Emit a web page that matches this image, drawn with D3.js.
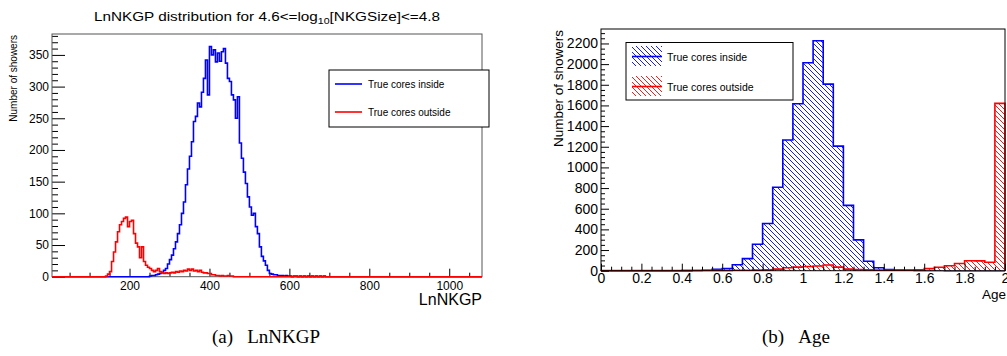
<!DOCTYPE html>
<html>
<head>
<meta charset="utf-8">
<script src="https://cdn.jsdelivr.net/npm/d3@7"></script>
<style>
  body { margin: 0; background: #fff; }
  svg { display: block; font-family: "Liberation Sans", Arial, sans-serif; }
</style>
</head>
<body>
<div id="chart"></div>
<script>
// ---- data ----
// left panel: LnNKGP, bins of 5 units
const lnRange = [6, 1082];
const lnBinWidth = 5;
const lnInsideStart = 250;
const lnInside = [1, 2, 2, 3, 4, 5, 7, 10, 13, 20,
  27, 34, 44, 55, 68, 82, 100, 118, 145, 170,
  190, 213, 245, 253, 274, 268, 291, 313, 342, 287,
  363, 350, 358, 339, 353, 340, 355, 360, 337, 313,
  308, 287, 279, 250, 284, 211, 187, 165, 147, 126,
  110, 97, 100, 79, 68, 47, 32, 25, 18, 10,
  5, 4, 3, 3, 2, 2, 2, 1, 2, 1,
  1, 0, 1, 1, 0, 1, 0, 1, 0, 1,
  0, 1, 0, 1, 0, 1, 0, 1];
const lnOutsideStart = 140;
const lnOutside = [1, 4, 8, 24, 39, 55, 71, 82, 87, 92,
  94, 79, 87, 89, 68, 53, 47, 30, 47, 24,
  18, 15, 13, 10, 8, 10, 13, 8, 6, 5,
  6, 5, 6, 7, 6, 8, 7, 9, 8, 10,
  9, 12, 10, 12, 9, 10, 8, 10, 7, 6,
  6, 5, 5, 3, 3, 2, 2, 1, 2, 1,
  1, 2, 1, 1, 0];
const lnYTicks = [0, 50, 100, 150, 200, 250, 300, 350];
const lnXTicks = [200, 400, 600, 800, 1000];

// right panel: Age, 40 bins of 0.05
const ageRange = [0, 2];
const ageBinWidth = 0.05;
const ageInside = [0, 0, 0, 0, 0, 0, 0, 0, 1, 2,
  5, 13, 22, 58, 117, 256, 457, 808, 1265, 1616,
  2013, 2226, 1806, 1206, 632, 298, 91, 29, 12, 6,
  4, 3, 2, 2, 1, 1, 1, 0, 0, 0];
const ageOutside = [2, 1, 1, 1, 1, 1, 1, 1, 1, 2,
  2, 3, 3, 4, 5, 6, 8, 15, 28, 35,
  40, 45, 55, 35, 15, 10, 8, 6, 5, 5,
  6, 8, 20, 33, 48, 70, 97, 95, 82, 1620];
const ageYTicks = [0, 200, 400, 600, 800, 1000, 1200, 1400, 1600, 1800, 2000, 2200];
const ageXTicks = [0, 0.2, 0.4, 0.6, 0.8, 1, 1.2, 1.4, 1.6, 1.8, 2];

const seriesNames = ['True cores inside', 'True cores outside'];
const seriesColors = ['#0000ff', '#ff0000'];

// ---- page ----
const width = 1007;
const height = 356;

const svg = d3.select('#chart')
  .append('svg')
  .attr('width', width)
  .attr('height', height);

// "\\\" hatching used by the filled histograms
const hatch = 5;
const defs = svg.append('defs');
seriesColors.forEach((c, i) => {
  const p = defs.append('pattern')
    .attr('id', 'hatch' + i)
    .attr('patternUnits', 'userSpaceOnUse')
    .attr('width', hatch)
    .attr('height', hatch);
  p.append('rect').attr('width', hatch).attr('height', hatch).attr('fill', '#fff');
  p.append('path')
    .attr('d', `M0,0 L${hatch},${hatch} M-1,${hatch - 1} L1,${hatch + 1} M${hatch - 1},-1 L${hatch + 1},1`)
    .attr('stroke', c)
    .attr('stroke-width', 0.9);
});

// turn bin values into step points along the full axis range
function stepPoints(range, start, w, values) {
  const pts = [[range[0], 0], [start, 0]];
  values.forEach((v, i) => pts.push([start + i * w, v]));
  pts.push([start + values.length * w, 0]);
  pts.push([range[1], 0]);
  return pts;
}

function styleAxis(g, fontSize) {
  g.select('.domain').remove();
  g.selectAll('line').attr('stroke', '#000');
  g.selectAll('text')
    .attr('fill', '#000')
    .style('font-size', fontSize + 'px')
    .style('font-family', '"Liberation Sans", Arial, sans-serif');
}

function minorTicks(lo, hi, step, majors) {
  const out = [];
  for (let v = lo; v <= hi + 1e-9; v += step) {
    const r = Math.round(v * 1000) / 1000;
    if (!majors.some(m => Math.abs(m - r) < 1e-9)) out.push(r);
  }
  return out;
}

// =========== left panel ===========
const L = { left: 52, right: 482, top: 34, bottom: 276.7 };
const xL = d3.scaleLinear().domain(lnRange).range([L.left, L.right]);
const yL = d3.scaleLinear().domain([0, 383]).range([L.bottom, L.top]);

svg.append('g')
  .attr('transform', `translate(${L.left},0)`)
  .call(d3.axisLeft(yL).tickValues(lnYTicks).tickSizeInner(-13).tickSizeOuter(0).tickPadding(3).tickFormat(d3.format('d')))
  .call(g => styleAxis(g, 12));
svg.append('g')
  .attr('transform', `translate(${L.left},0)`)
  .call(d3.axisLeft(yL).tickValues(minorTicks(0, 380, 10, lnYTicks)).tickSizeInner(-6).tickSizeOuter(0).tickFormat(''))
  .call(g => styleAxis(g, 12));
svg.append('g')
  .attr('transform', `translate(0,${L.bottom})`)
  .call(d3.axisBottom(xL).tickValues(lnXTicks).tickSizeInner(-8).tickSizeOuter(0).tickPadding(4.5).tickFormat(d3.format('d')))
  .call(g => styleAxis(g, 12));
svg.append('g')
  .attr('transform', `translate(0,${L.bottom})`)
  .call(d3.axisBottom(xL).tickValues(minorTicks(50, 1050, 50, lnXTicks)).tickSizeInner(-4).tickSizeOuter(0).tickFormat(''))
  .call(g => styleAxis(g, 12));

svg.append('rect')
  .attr('x', L.left).attr('y', L.top)
  .attr('width', L.right - L.left).attr('height', L.bottom - L.top)
  .attr('fill', 'none').attr('stroke', '#555').attr('stroke-width', 1);

const lineL = d3.line()
  .x(d => xL(d[0]))
  .y(d => yL(d[1]))
  .curve(d3.curveStepAfter);

svg.append('path')
  .datum(stepPoints(lnRange, lnInsideStart, lnBinWidth, lnInside))
  .attr('d', lineL)
  .attr('fill', 'none')
  .attr('stroke', seriesColors[0])
  .attr('stroke-width', 1.6);
svg.append('path')
  .datum(stepPoints(lnRange, lnOutsideStart, lnBinWidth, lnOutside))
  .attr('d', lineL)
  .attr('fill', 'none')
  .attr('stroke', seriesColors[1])
  .attr('stroke-width', 1.6);

// title with subscript, stretched to the width seen in the picture
const title = svg.append('text')
  .attr('x', 94).attr('y', 21)
  .attr('textLength', 346)
  .attr('lengthAdjust', 'spacingAndGlyphs')
  .style('font-size', '13px');
title.append('tspan').text('LnNKGP distribution for 4.6<=log');
title.append('tspan').attr('dy', 3).style('font-size', '9px').text('10');
title.append('tspan').attr('dy', -3).text('[NKGSize]<=4.8');

svg.append('text')
  .attr('transform', 'translate(17,35) rotate(-90)')
  .attr('text-anchor', 'end')
  .style('font-size', '10px')
  .text('Number of showers');

svg.append('text')
  .attr('x', 482).attr('y', 305)
  .attr('text-anchor', 'end')
  .style('font-size', '16px')
  .text('LnNKGP');

// left legend
const legL = svg.append('g');
legL.append('rect')
  .attr('x', 329).attr('y', 70).attr('width', 160).attr('height', 57)
  .attr('fill', '#fff').attr('stroke', '#000').attr('stroke-width', 1);
seriesNames.forEach((n, i) => {
  const yy = 84 + i * 28;
  legL.append('line')
    .attr('x1', 335).attr('x2', 362).attr('y1', yy).attr('y2', yy)
    .attr('stroke', seriesColors[i]).attr('stroke-width', 1.6);
  legL.append('text')
    .attr('x', 368).attr('y', yy + 3.5)
    .style('font-size', '10px')
    .text(n);
});

// =========== right panel ===========
const R = { left: 601, right: 1005, top: 29, bottom: 270.7 };
const xR = d3.scaleLinear().domain(ageRange).range([R.left, R.right]);
const yR = d3.scaleLinear().domain([0, 2340]).range([R.bottom, R.top]);

const areaR = d3.area()
  .x(d => xR(d[0]))
  .y0(yR(0))
  .y1(d => yR(d[1]))
  .curve(d3.curveStepAfter);
const lineR = d3.line()
  .x(d => xR(d[0]))
  .y(d => yR(d[1]))
  .curve(d3.curveStepAfter);

[ageInside, ageOutside].forEach((vals, i) => {
  const pts = stepPoints(ageRange, 0, ageBinWidth, vals);
  svg.append('path')
    .datum(pts)
    .attr('d', areaR)
    .attr('fill', `url(#hatch${i})`)
    .attr('stroke', 'none');
  svg.append('path')
    .datum(pts)
    .attr('d', lineR)
    .attr('fill', 'none')
    .attr('stroke', seriesColors[i])
    .attr('stroke-width', 1.6);
});

svg.append('g')
  .attr('transform', `translate(${R.left},0)`)
  .call(d3.axisLeft(yR).tickValues(ageYTicks).tickSizeInner(-8).tickSizeOuter(0).tickPadding(3).tickFormat(d3.format('d')))
  .call(g => styleAxis(g, 14));
svg.append('g')
  .attr('transform', `translate(${R.left},0)`)
  .call(d3.axisLeft(yR).tickValues(minorTicks(0, 2300, 50, ageYTicks)).tickSizeInner(-4).tickSizeOuter(0).tickFormat(''))
  .call(g => styleAxis(g, 14));
svg.append('g')
  .attr('transform', `translate(0,${R.bottom})`)
  .call(d3.axisBottom(xR).tickValues(ageXTicks).tickSizeInner(-7).tickSizeOuter(0).tickPadding(2.5).tickFormat(d3.format('~g')))
  .call(g => styleAxis(g, 14));
svg.append('g')
  .attr('transform', `translate(0,${R.bottom})`)
  .call(d3.axisBottom(xR).tickValues(minorTicks(0, 2, 0.05, ageXTicks)).tickSizeInner(-4).tickSizeOuter(0).tickFormat(''))
  .call(g => styleAxis(g, 14));

svg.append('rect')
  .attr('x', R.left).attr('y', R.top)
  .attr('width', R.right - R.left).attr('height', R.bottom - R.top)
  .attr('fill', 'none').attr('stroke', '#000').attr('stroke-width', 1);

svg.append('text')
  .attr('transform', 'translate(563,30) rotate(-90)')
  .attr('text-anchor', 'end')
  .style('font-size', '13.5px')
  .text('Number of showers');

svg.append('text')
  .attr('x', 1006).attr('y', 299)
  .attr('text-anchor', 'end')
  .style('font-size', '13.5px')
  .text('Age');

// right legend
const legR = svg.append('g');
legR.append('rect')
  .attr('x', 626).attr('y', 42.5).attr('width', 167).attr('height', 57.5)
  .attr('fill', '#fff').attr('stroke', '#000').attr('stroke-width', 1);
seriesNames.forEach((n, i) => {
  const y0 = 46 + i * 30;
  legR.append('rect')
    .attr('x', 632).attr('y', y0).attr('width', 30).attr('height', 20)
    .attr('fill', `url(#hatch${i})`);
  legR.append('line')
    .attr('x1', 632).attr('x2', 662).attr('y1', y0 + 10.5).attr('y2', y0 + 10.5)
    .attr('stroke', seriesColors[i]).attr('stroke-width', 1.6);
  legR.append('text')
    .attr('x', 667).attr('y', y0 + 14.5)
    .style('font-size', '10.5px')
    .text(n);
});

// captions
svg.append('text')
  .attr('x', 266).attr('y', 343)
  .attr('text-anchor', 'middle')
  .style('font-family', '"Liberation Serif", "Times New Roman", serif')
  .style('font-size', '19px')
  .text('(a)\u00a0\u00a0\u00a0LnNKGP');
svg.append('text')
  .attr('x', 796).attr('y', 343)
  .attr('text-anchor', 'middle')
  .style('font-family', '"Liberation Serif", "Times New Roman", serif')
  .style('font-size', '19px')
  .text('(b)\u00a0\u00a0\u00a0Age');
</script>
</body>
</html>
